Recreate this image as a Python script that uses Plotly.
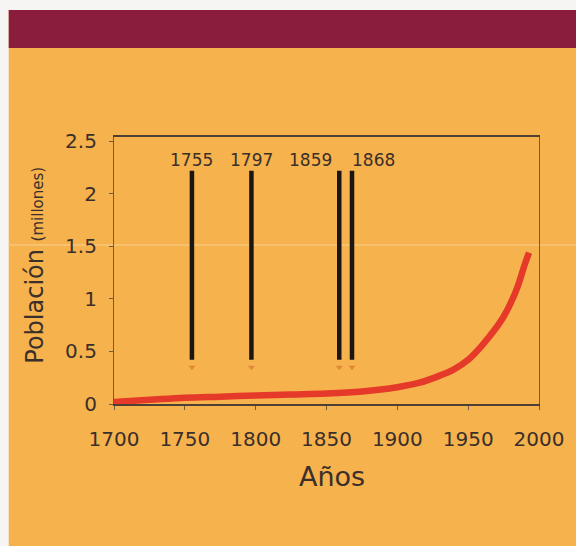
import plotly.graph_objects as go

# Population curve (millions)
years = [1700, 1725, 1750, 1775, 1800, 1825, 1850, 1875, 1900, 1915, 1930,
         1940, 1950, 1960, 1970, 1975, 1980, 1985, 1990, 1993]
population = [0.02, 0.04, 0.06, 0.07, 0.08, 0.09, 0.10, 0.12, 0.16, 0.20, 0.27,
              0.33, 0.42, 0.56, 0.73, 0.83, 0.96, 1.12, 1.33, 1.44]

# Marked event years (vertical bars)
event_years = [1755, 1797, 1859, 1868]
event_labels = ["1755", "1797", "1859", "1868"]
bar_bottom = 0.42
bar_top = 2.22
arrow_level = 0.35
label_level = 2.32

x_ticks = [1700, 1750, 1800, 1850, 1900, 1950, 2000]
y_ticks = [0, 0.5, 1, 1.5, 2, 2.5]
y_tick_text = ["0", "0.5", "1", "1.5", "2", "2.5"]

ORANGE = "#f6b24c"
MAROON = "#8a1c3d"
WHITE = "#f7f5f3"
TXT = "#3a2f2a"
AX = "#6e5c44"
FONT = "DejaVu Sans"

fig = go.Figure()

for yr in event_years:
    fig.add_trace(go.Scatter(x=[yr, yr], y=[bar_bottom, bar_top], mode="lines",
                             line=dict(color="#1c1612", width=4.5),
                             hoverinfo="skip", showlegend=False))
fig.add_trace(go.Scatter(x=event_years, y=[arrow_level] * len(event_years),
                         mode="markers",
                         marker=dict(symbol="triangle-down", size=6, color="#e2873a"),
                         hoverinfo="skip", showlegend=False))

fig.add_trace(go.Scatter(x=years, y=population, mode="lines",
                         line=dict(color="#e5392a", width=6.5, shape="spline"),
                         showlegend=False))

shifts = {"1755": (0, "center"), "1797": (0, "center"),
          "1859": (-5, "right"), "1868": (-2, "left")}
for yr, lab in zip(event_years, event_labels):
    dx, anc = shifts[lab]
    fig.add_annotation(x=yr, y=label_level, text=lab, showarrow=False,
                       xanchor=anc, xshift=dx, yanchor="middle",
                       font=dict(family=FONT, size=17, color=TXT))

# Axis titles
fig.add_annotation(xref="paper", yref="paper", x=-0.1846, y=0.52,
                   text="Población <span style='font-size:15px'>(millones)</span>",
                   textangle=-90, showarrow=False, xanchor="center", yanchor="middle",
                   font=dict(family=FONT, size=24, color=TXT))
fig.add_annotation(xref="paper", yref="paper", x=0.514, y=-0.27,
                   text="Años", showarrow=False, xanchor="center", yanchor="middle",
                   font=dict(family=FONT, size=27, color=TXT))

shapes = [
    # white top strip
    dict(type="rect", xref="paper", yref="paper", x0=-0.3, x1=1.2, y0=1.4757, y1=1.6,
         fillcolor=WHITE, line=dict(width=0), layer="below"),
    # white left strip
    dict(type="rect", xref="paper", yref="paper", x0=-0.3, x1=-0.2477, y0=-0.6, y1=1.6,
         fillcolor=WHITE, line=dict(width=0), layer="below"),
    # maroon band
    dict(type="rect", xref="paper", yref="paper", x0=-0.2477, x1=1.2, y0=1.3333, y1=1.4757,
         fillcolor=MAROON, line=dict(width=0), layer="below"),
    # faint light streak in the print
    dict(type="line", xref="paper", yref="paper", x0=-0.2477, x1=1.2, y0=0.5955, y1=0.5955,
         line=dict(color="#f8c170", width=2), layer="below"),
]

fig.update_layout(
    width=576, height=546,
    margin=dict(l=114, r=34, t=137, b=142),
    paper_bgcolor=ORANGE, plot_bgcolor="rgba(0,0,0,0)",
    shapes=shapes,
    xaxis=dict(range=[1700, 2000], tickvals=x_ticks, showgrid=False, zeroline=False,
               showline=True, linecolor="#4e4034", linewidth=1.5, mirror=True,
               ticks="outside", ticklen=4, tickcolor=AX, ticklabelstandoff=12,
               tickfont=dict(family=FONT, size=20, color=TXT)),
    yaxis=dict(range=[0, 2.54], tickvals=y_ticks, ticktext=y_tick_text,
               showgrid=False, zeroline=False,
               showline=True, linecolor=AX, linewidth=1.2, mirror=True,
               ticks="outside", ticklen=4, tickcolor=AX, ticklabelstandoff=8,
               tickfont=dict(family=FONT, size=20, color=TXT)),
)

fig.write_html("out.html",
               config={"displayModeBar": False},
               post_script="document.body.style.margin='0';"
                           "document.body.style.overflow='hidden';")
